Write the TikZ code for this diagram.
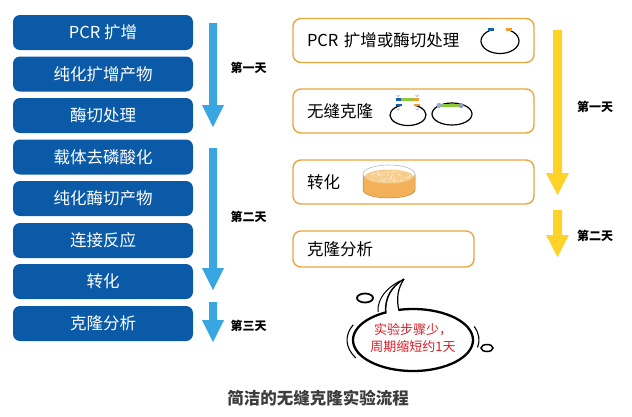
\documentclass[tikz,border=0pt]{standalone}
\usepackage{fontspec}
\setmainfont{Noto Sans CJK SC}
\definecolor{boxblue}{RGB}{10,90,168}
\definecolor{arrowblue}{RGB}{56,166,224}
\definecolor{boxorange}{RGB}{234,166,62}
\definecolor{arrowyellow}{RGB}{255,210,40}
\definecolor{tagblue}{RGB}{20,95,170}
\definecolor{tagorange}{RGB}{240,160,40}
\definecolor{taggreen}{RGB}{140,200,60}
\definecolor{hookblue}{RGB}{150,170,215}
\definecolor{dishorange}{RGB}{242,176,88}
\definecolor{dishlight}{RGB}{248,205,140}
\definecolor{notered}{RGB}{220,30,40}
\definecolor{titlegray}{RGB}{60,60,60}
\begin{document}
\begin{tikzpicture}[x=1pt,y=-1pt,
  bluebox/.style={fill=boxblue, rounded corners=7pt, minimum width=180pt, minimum height=35pt,
    text=white, font=\fontsize{16.5}{18}\selectfont},
  orangebox/.style={draw=boxorange, line width=1.4pt, fill=white, rounded corners=8pt,
    minimum height=44pt, inner xsep=14pt, align=left, font=\fontsize{16.5}{18}\selectfont},
  daylabel/.style={font=\bfseries\fontsize{12}{14}\selectfont}]
\useasboundingbox (0,0) rectangle (632,416);

% left: usual cloning, three days
\node [bluebox] (pcr) at (103,32.5) {PCR 扩增};
\node [bluebox] (purify) at (103,74) {纯化扩增产物};
\node [bluebox] (digest) at (103,115.5) {酶切处理};
\node [bluebox] (dephos) at (103,157) {载体去磷酸化};
\node [bluebox] (purifydig) at (103,198.5) {纯化酶切产物};
\node [bluebox] (ligate) at (103,240.5) {连接反应};
\node [bluebox] (transform) at (103,281.5) {转化};
\node [bluebox] (analyse) at (103,323.5) {克隆分析};

\fill [arrowblue] (209,23) -- (217,23) -- (217,105) -- (224,105) -- (213,127) -- (202,105) -- (209,105) -- cycle;
\fill [arrowblue] (209,148) -- (217,148) -- (217,268) -- (224,268) -- (213,290) -- (202,268) -- (209,268) -- cycle;
\fill [arrowblue] (209,302) -- (217,302) -- (217,320) -- (224,320) -- (213,342) -- (202,320) -- (209,320) -- cycle;

\node [daylabel] (dayone) at (248.5,68) {第一天};
\node [daylabel] (daytwo) at (248.5,217) {第二天};
\node [daylabel] (daythree) at (248.5,326) {第三天};

% right: seamless cloning, two days
\node [orangebox, text width=213pt] (rpcr) at (413.5,40.5) {PCR 扩增或酶切处理};
\node [orangebox, text width=213pt] (rseam) at (413.5,111) {无缝克隆};
\node [orangebox, text width=213pt] (rtransform) at (413.5,182) {转化};
\node [orangebox, text width=153pt, minimum height=36pt] (ranalyse) at (383.5,249) {克隆分析};

\fill [arrowyellow] (553,30) -- (562,30) -- (562,173) -- (569,173) -- (557.5,195) -- (546,173) -- (553,173) -- cycle;
\fill [arrowyellow] (553,210) -- (562,210) -- (562,235) -- (569,235) -- (557.5,257) -- (546,235) -- (553,235) -- cycle;

\node [daylabel] (rdayone) at (595,107) {第一天};
\node [daylabel] (rdaytwo) at (595,236) {第二天};

% open vector
\draw [line width=1.2pt] ({500+19*cos(290)},{41+12.5*sin(290)}) arc [start angle=290, end angle=610, x radius=19, y radius=12.5];
\draw [tagblue, line width=2.5pt] (488,29.5) -- (494,29.5);
\draw [tagorange, line width=2.5pt] (506,29.5) -- (512,29.5);

% insert and vector
\draw [line width=1.2pt] ({408+18*cos(290)},{115+10.5*sin(290)}) arc [start angle=290, end angle=610, x radius=18, y radius=10.5];
\draw [tagblue, line width=2.5pt] (396,105) -- (402,105);
\draw [tagorange, line width=2.5pt] (414,105) -- (420,105);
\draw [tagblue, line width=2.5pt] (396,99.5) -- (401,99.5);
\draw [taggreen, line width=2.5pt] (401,99.5) -- (414,99.5);
\draw [tagorange, line width=2.5pt] (414,99.5) -- (419,99.5);
\draw [hookblue, line width=.7pt] (396.5,95) arc [start angle=180, end angle=0, radius=1.5];
\draw [hookblue, line width=.7pt] (415.5,95) arc [start angle=180, end angle=0, radius=1.5];
\draw [hookblue, line width=.7pt] (396.5,108.5) arc [start angle=180, end angle=0, radius=1.5];
\draw [hookblue, line width=.7pt] (415.5,108.5) arc [start angle=180, end angle=0, radius=1.5];

% closed vector
\draw [line width=1.2pt] (452,114) ellipse [x radius=20, y radius=11];
\draw [taggreen, line width=2.5pt] (439,105.5) -- (461,105.5);
\fill [hookblue] (439,105.5) circle (2.6);
\fill [hookblue!70!gray] (461,105.5) circle (2.6);

% dish
\fill [dishorange] (363,174) -- (363,190) arc [start angle=180, end angle=0, x radius=26, y radius=8] -- (415,174) -- cycle;
\draw [boxorange!80!black, line width=.5pt] (363,174) -- (363,190) arc [start angle=180, end angle=0, x radius=26, y radius=8] -- (415,174);
\draw [gray!55, line width=.6pt, fill=white] (389,174) ellipse [x radius=26, y radius=9];
\fill [dishlight] (389,176.5) ellipse [x radius=24, y radius=7];
\pgfmathsetseed{11}
\foreach \i in {1,...,90} {
  \pgfmathsetmacro\ang{360*rnd}
  \pgfmathsetmacro\rad{sqrt(rnd)}
  \fill [white, opacity=.75] ({389+22*\rad*cos(\ang)},{176.5+6*\rad*sin(\ang)}) circle (.5);
}

% speech bubble
\draw [line width=2.3pt] (413,340) ellipse [x radius=60, y radius=31];
\draw [line width=1.1pt] ({413+66*cos(150)},{340+36*sin(150)}) arc [start angle=150, end angle=205, x radius=66, y radius=36];
\draw [line width=1.1pt] ({413+66*cos(-22)},{340+36*sin(-22)}) arc [start angle=-22, end angle=12, x radius=66, y radius=36];
\fill [white] (386,313) .. controls (384,298) and (392,286) .. (404,279)
  .. controls (398,288) and (396,298) .. (399,311) -- (399,315) -- (386,317) -- cycle;
\draw [line width=1.5pt] (386,313.5) .. controls (384,298) and (392,286) .. (404,279);
\draw [line width=1.2pt] (404,279) .. controls (398,288) and (396,298) .. (399,311);
\draw [line width=1pt] (378,312) .. controls (377,298) and (388,287) .. (400,281);
\draw [line width=1.8pt] (365,298) ellipse [x radius=8, y radius=4.5];
\draw [line width=1.5pt] (487,348) ellipse [x radius=6, y radius=3.5];
\node [text=notered, align=center, font=\fontsize{13}{17}\selectfont] (bubble) at (413,338.5) {实验步骤少，\\周期缩短约1天};

\node [text=titlegray, font=\bfseries\fontsize{16.5}{18}\selectfont] (caption) at (318,398) {简洁的无缝克隆实验流程};
\end{tikzpicture}
\end{document}
